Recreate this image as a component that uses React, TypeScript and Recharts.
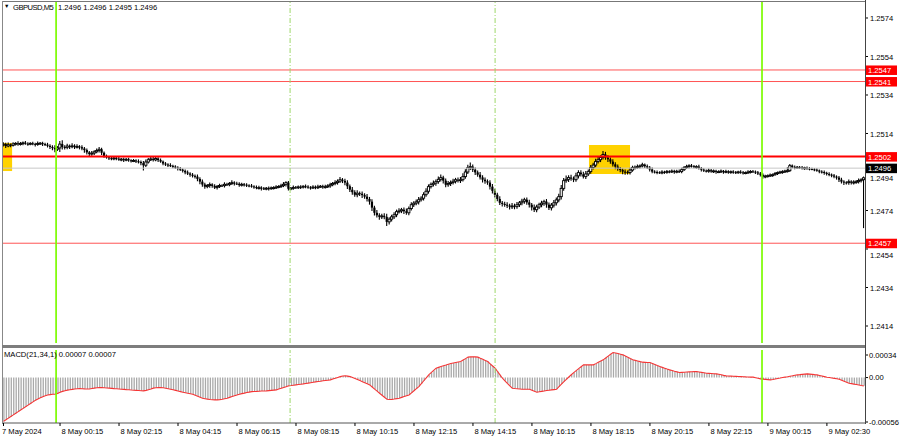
import React from 'react';
import { ComposedChart, Bar, Line, XAxis, YAxis, ReferenceLine, ReferenceArea } from 'recharts';

// ---------------- data ----------------
const BASE = 1.24; // closes/wicks below are pips above 1.2400
const firstOpenPips = 108.0;

const closePips = [
  108.5,107.5,108.2,107.8,108.6,108.9,108.4,108.8,109.2,108.7,
  108.5,108.9,108.6,108.3,108.8,109.0,108.5,108.2,107.6,107.0,
  106.5,105.8,106.5,
  108.5,107.0,106.8,107.5,107.2,107.6,107.0,107.3,106.9,106.2,
  105.4,104.2,103.3,103.8,104.5,105.2,105.8,104.0,
  102.2,101.6,101.2,100.8,101.3,100.9,100.4,100.7,100.2,100.6,100.1,99.8,100.0,99.6,99.2,98.6,
  97.5,
  99.2,100.4,100.8,100.3,101.0,100.2,99.4,
  98.4,97.9,97.6,97.2,96.8,96.3,95.8,95.2,94.6,93.8,93.2,92.6,92.0,91.6,90.4,89.0,
  87.5,86.4,87.0,87.5,86.8,85.9,86.5,87.0,86.9,87.6,87.4,88.0,88.5,88.0,87.9,87.2,87.6,87.4,87.0,86.9,
  86.5,86.2,85.8,85.9,85.5,85.3,85.6,85.4,85.8,85.9,86.2,86.5,86.9,87.6,88.5,
  85.3,85.6,86.0,85.9,86.3,86.1,86.6,86.4,86.0,85.8,86.2,85.9,86.3,86.6,86.2,86.4,86.8,87.4,88.0,88.5,89.2,
  90.0,89.4,88.5,86.6,84.8,83.5,82.2,83.0,82.7,82.0,81.2,80.0,78.6,75.5,
  72.8,71.5,70.7,71.2,70.7,68.1,69.5,70.7,71.8,73.4,73.8,74.4,73.6,72.8,75.0,77.0,77.8,78.5,79.6,80.4,82.2,84.0,
  86.4,87.6,88.2,89.0,90.2,91.1,89.5,87.4,88.0,88.5,89.2,90.0,89.6,90.0,91.6,94.0,96.3,96.8,95.2,93.8,92.6,91.2,90.0,89.2,88.5,86.4,84.2,82.2,
  80.0,78.0,77.4,77.0,76.5,76.0,76.4,76.0,77.0,78.0,78.8,79.6,78.2,77.0,75.6,74.4,75.8,77.0,77.8,78.6,77.0,75.4,76.8,78.0,79.5,81.2,
  85.5,89.5,90.2,91.1,90.6,90.0,92.0,93.7,92.8,91.6,93.0,94.2,96.3,97.6,99.4,100.4,101.5,
  103.1,101.5,100.6,99.4,98.0,96.8,95.6,95.0,94.2,94.0,93.7,95.0,96.3,96.5,96.8,97.2,97.8,97.0,96.3,95.3,94.2,94.0,93.8,
  93.7,94.0,93.8,94.3,94.2,94.5,94.0,94.4,94.2,95.2,96.3,96.8,97.3,97.0,96.6,96.8,96.0,95.2,94.7,94.5,94.9,94.3,94.6,94.1,
  94.2,94.5,94.0,94.3,93.8,94.2,93.9,93.7,94.1,93.8,93.6,93.7,94.0,94.3,94.2,93.8,93.2,92.6,91.6,91.9,
  92.1,92.4,92.6,93.2,93.7,94.0,94.2,94.5,94.7,97.3,96.6,96.3,96.5,96.3,96.0,96.2,95.8,95.6,95.4,95.2,
  94.8,94.2,94.0,93.5,93.0,92.6,92.2,91.6,91.1,90.0,89.0,88.6,88.5,89.0,88.5,88.8,89.0,89.6,90.0,91.0,
];

const wickUpPips = [
  .8,.6,1.0,.5,.7,.4,.9,.6,.5,.8,.6,.4,.7,.5,.9,.4,.6,.5,.8,.6,
  .7,1.2,.9,1.5,1.8,.8,1.0,.6,1.2,.7,.9,.5,.8,.6,.7,.5,.9,.6,.8,1.0,
  .6,.5,.7,.4,.6,.8,.5,.7,.4,.6,.5,.7,.4,.6,.5,.8,.6,.9,1.1,.7,
  .8,.9,.6,.5,.7,.4,.6,.5,.8,.4,.6,.5,.7,.4,.6,.8,.5,.7,.6,.9,
  .7,1.0,.8,.6,.9,.5,.7,.6,.8,.5,.9,.6,.7,1.0,.5,.8,.6,.7,.5,.6,
  .5,.7,.4,.6,.8,.5,.6,.4,.7,.5,.6,.8,.5,.9,1.0,.6,.7,.5,.8,.6,
  .5,.7,.4,.8,.6,.5,.7,.6,.9,.5,.6,.8,.7,.9,.6,1.0,.8,1.2,.7,.9,
  1.0,.8,1.2,.9,1.4,.7,1.0,.8,1.2,.9,1.1,.8,1.3,.9,1.0,1.2,1.5,.8,1.0,1.1,
  .9,1.2,.8,1.0,1.3,.9,1.1,.8,1.0,1.2,.9,1.1,1.4,1.0,.8,1.2,.9,1.3,1.5,.8,
  1.0,1.2,.9,1.1,.8,1.0,1.2,1.6,1.3,1.3,2.0,.9,1.0,.8,1.2,.9,1.0,.8,1.1,1.2,
  1.0,.9,1.2,.8,1.0,1.1,.9,1.3,1.0,1.2,.8,1.1,.9,1.0,1.2,.8,1.3,1.0,.9,1.1,
  .8,1.2,1.0,.9,1.3,1.1,1.4,1.6,1.2,1.8,1.0,1.3,.9,1.5,1.1,1.0,1.2,1.4,1.0,1.2,
  1.1,1.3,1.2,1.0,1.6,1.2,1.0,.8,1.1,.9,1.0,.8,.7,.9,.6,1.0,.8,.7,.9,.6,
  .8,.5,.7,.6,.9,.5,.6,.4,.7,.5,.6,.4,.7,.5,.6,.8,.9,.7,.8,.6,
  .7,.5,.6,.8,.5,.6,.4,.7,.5,.6,.4,.5,.6,.4,.7,.5,.4,.6,.5,.4,
  .6,.5,.4,.7,.5,.6,.4,.5,.7,.6,.5,.4,.6,.5,.7,.4,.5,.6,.5,1.6,
  .7,.5,.6,.4,.5,.6,.4,.5,.6,.4,.5,.6,.4,.5,.6,.5,.7,.4,.6,.5,
  .7,.8,.6,.5,.9,.6,.8,.7,.9,.6,.5,
];

const wickDownPips = [
  .6,.9,.5,.8,.4,.7,.6,.5,.8,.4,.7,.5,.6,.9,.5,.6,.8,.5,.7,.9,
  1.0,1.4,.8,2.0,1.2,1.0,.8,1.1,.7,.9,.6,1.0,.8,1.2,.9,1.3,.7,.8,.6,.9,
  1.0,.7,.5,.8,.6,.5,.7,.4,.6,.8,.5,.6,.7,.5,.8,.6,.9,2.6,.8,.6,
  .5,.7,.6,.8,.5,.7,.6,.8,.5,.7,.6,.9,.5,.7,.8,.6,.9,.7,.8,1.0,
  1.2,1.0,.9,.7,1.0,.8,.6,.9,.7,.6,.8,.5,.7,.6,.9,.5,.7,.6,.8,.6,
  .7,.5,.8,.6,.7,.9,.5,.6,.8,.5,.7,.6,.5,.7,.6,1.0,.8,.6,.7,.5,
  .6,.8,.5,.7,.6,.8,.5,.7,.6,.5,.7,.6,.5,.8,.6,.7,.9,.8,1.0,1.2,
  1.3,1.0,1.2,.9,1.1,1.0,1.3,.9,1.2,1.4,1.6,1.2,1.0,1.3,.9,1.1,2.0,1.2,1.0,.9,
  1.1,.8,1.0,1.2,.9,1.1,.8,1.0,.9,1.2,.8,1.0,.9,1.1,.8,1.0,1.2,.9,1.0,1.3,
  1.2,.9,1.1,.8,1.0,.9,1.2,.8,1.0,.9,1.1,1.0,1.2,.9,1.0,1.3,1.1,1.0,1.4,1.2,
  1.3,1.1,1.0,1.2,.9,1.1,1.3,1.0,1.2,.9,1.0,1.1,1.2,1.0,1.3,1.5,1.0,1.2,.9,1.1,
  1.2,1.4,1.0,1.3,1.1,1.2,1.0,1.3,1.1,.9,1.2,1.0,1.1,.9,1.2,1.0,.8,1.1,.9,1.0,
  .9,1.0,.8,1.1,.9,1.0,1.2,.9,1.0,1.2,.8,1.0,1.2,1.3,.9,.8,.7,.9,.6,.8,
  .7,.8,.6,.9,.7,.6,.8,.5,.7,.6,.5,.7,.6,.8,.5,.6,.7,.5,.6,.8,
  .6,.5,.7,.6,.8,.5,.6,.7,.5,.6,.8,.5,.6,.7,.5,.6,.5,.7,.6,.5,
  .5,.7,.6,.5,.6,.4,.7,.6,.8,1.0,.7,.6,.5,.7,.4,.6,.5,.7,.5,.6,
  .6,.5,.7,.4,.6,.5,.7,.5,.6,.4,.6,.5,.7,.6,.8,.7,.6,.8,.7,.9,
  1.0,.8,1.2,.9,1.0,.8,.9,.7,.8,.9,25.0,
];

// MACD(21,34,1) per bar, in units of 0.00001
const macdE5 = [
  -54,-52,-50,-48,-46,-44,-42,-40,-38,-36,-34,-32,-30,-28,-26.5,-25,-23.5,-22.5,-21.5,-21,-20.6,
  -20.5,-19.5,-18.2,-17,-16.2,-15.5,-15,-14.5,-14.1,-13.8,-13.6,-13.7,-13.9,-14,-14,-13.5,-13,-12.6,-12.3,-12.4,
  -12.6,-12.8,-13,-13.3,-13.6,-13.8,-14,-14.3,-14.6,-14.9,-15.1,-15.4,-15.6,-15.8,-16,-16.2,-16.4,-15.8,-15,-14.2,
  -13,-12.6,-12.4,-12.3,-12.6,-13.2,-13.8,-14.4,-15.1,-15.8,-16.6,-17.3,-18,-18.6,-19.3,-19.9,-20.5,-21.8,-23,-24.2,
  -25.4,-26,-26.6,-27,-27.3,-27.5,-27.5,-27.2,-26.7,-26,-25.4,-24.4,-23.4,-22.4,-21.4,-20.5,-19.8,-19.2,-18.5,-17.9,
  -17.3,-17.1,-17,-16.8,-16.6,-16.5,-16.4,-16.1,-15.8,-15.5,-15.2,-14.2,-13.2,-12.2,-11.2,-10.2,-9.8,-9.4,-9,-8.6,
  -8.2,-7.8,-7.3,-6.8,-6.3,-5.8,-5.3,-4.9,-4.5,-4,-3.6,-3.2,-2.8,-1.8,-0.8,0.2,1.2,2,2.2,1.8,
  1.2,0,-1.2,-2.4,-3.7,-5,-6.3,-7.6,-9,-11.6,-14.2,-16.8,-19.3,-21.8,-24.3,-26.7,-27,-26.9,-26.5,-26,
  -25.4,-24.4,-23.4,-22.4,-21.4,-18.8,-16.2,-13.6,-11.1,-7.5,-3.9,-0.3,3.3,6,8.8,11.6,12.6,13.6,14.6,15.5,
  16.5,17.4,18,18.6,19.2,19.8,21.6,23.4,25.2,25.5,25.6,25.5,25.2,23.8,22.5,21.2,19.8,17,14.3,11.6,
  7.5,3.4,-0.8,-4,-7.2,-10.2,-13.1,-13.5,-13.8,-14.1,-14.4,-14.4,-14.4,-14.4,-15.6,-16.8,-18,-17.5,-17,-16.5,
  -16,-15.6,-15.2,-14.8,-14.4,-11.2,-8,-4.9,-2.1,0.7,3.5,6.2,8.6,11,13.4,15.7,15.7,15.6,15.6,15.7,
  17.2,18.8,20.4,21.9,24.2,26.4,28.7,30.9,30.4,29.6,28.8,28,26.5,25,23.4,21.9,21.2,20.5,19.7,19,
  18.8,18.6,18.5,17.3,16.1,14.8,13.6,12.6,11.6,10.5,9.5,8.7,7.8,7,6.2,6.4,6.6,6.8,7,7.2,
  7.3,7.4,6.9,6.4,5.9,5.4,5.2,5,4.8,4.6,4,3.4,2.7,2.1,1.9,1.8,1.6,1.5,1.3,1.2,
  1.1,0.9,0.8,0.6,0.5,-0.2,-0.9,-1.6,-1.9,-2.2,-2.5,-2.8,-2.3,-1.7,-1.1,-0.6,0,0.6,1.1,1.7,
  2.2,2.8,3.3,3.6,4,4.3,4.6,4.3,4,3.6,3.3,2.6,1.9,1.2,0.5,0,-0.5,-1,-1.5,-2,
  -3.2,-4.5,-5.7,-6.9,-7.5,-8.1,-8.6,-9.1,-9.7,-10.2,
];

const timeLabels = [
  '7 May 2024', '8 May 00:15', '8 May 02:15', '8 May 04:15', '8 May 06:15', '8 May 08:15',
  '8 May 10:15', '8 May 12:15', '8 May 14:15', '8 May 16:15', '8 May 18:15', '8 May 20:15',
  '8 May 22:15', '9 May 00:15', '9 May 02:30',
];
const timeLabelBars = [0, 23, 47, 71, 95, 119, 143, 167, 191, 215, 239, 263, 287, 311, 335];

const priceTicks = [1.2574, 1.2554, 1.2534, 1.2514, 1.2494, 1.2474, 1.2454, 1.2434, 1.2414];
const levelPrices = [1.2547, 1.2541, 1.2502, 1.2457];
const levelWidths = [1, 1, 2, 1];
const bidPrice = 1.2496;

const dayLineBars = [21.4, 308.6];      // solid green separators (bar position)
const sessionLineBars = [116.6, 200.0]; // dashed green markers

const zoneX1 = [-0.61, 238.2];
const zoneX2 = [3.5, 254.9];
const zoneTop = [1.25091, 1.2508];
const zoneBottom = [1.24945, 1.2493];

const macdTicks = [0.00034, 0, -0.00056];

// ---------------- layout constants ----------------
const FONT = '"Liberation Sans", Arial, sans-serif';
const FS = 7.6;
const PLOT_LEFT = 2;
const PLOT_RIGHT = 865;
const AXIS_W = 900 - PLOT_RIGHT;
const X_DOMAIN: [number, number] = [-0.61, 350.5];
const PRICE_DOMAIN: [number, number] = [1.240517, 1.258231];
const MACD_DOMAIN: [number, number] = [-0.00056, 0.00034];
const MACD_TOP = 349;
const BOX_H = 9.5;

// ---------------- derived tables ----------------
const candles = closePips.map((c, i) => {
  const o = i === 0 ? firstOpenPips : closePips[i - 1];
  const hi = Math.max(o, c) + wickUpPips[i];
  const lo = Math.min(o, c) - wickDownPips[i];
  return {
    i,
    open: BASE + o / 1e4,
    close: BASE + c / 1e4,
    high: BASE + hi / 1e4,
    low: BASE + lo / 1e4,
    range: [BASE + lo / 1e4, BASE + hi / 1e4],
  };
});

const macdData = macdE5.map((v, i) => ({ i, macd: v / 1e5 }));
const boxedPrices = [bidPrice, ...levelPrices];

// ---------------- renderers ----------------
const Candle = (props: any) => {
  const { x, y, width, height, payload } = props;
  if (!payload || x == null || y == null || height == null) return null;
  const top = Math.min(y, y + height);
  const h = Math.abs(height);
  const { open, close, high, low } = payload;
  const span = high - low || 1e-9;
  const k = h / span;
  const cx = x + width / 2;
  const bTop = top + (high - Math.max(open, close)) * k;
  const bBot = top + (high - Math.min(open, close)) * k;
  const bull = close > open;
  const bh = Math.max(bBot - bTop, 1);
  return (
    <g>
      <line x1={cx} x2={cx} y1={top - 0.3} y2={top + h + 0.3} stroke="#000" strokeWidth={1.1} />
      <rect
        x={cx - 1.1}
        y={bTop}
        width={2.2}
        height={bh}
        fill={bull ? '#fff' : '#000'}
        stroke="#000"
        strokeWidth={bull ? 0.9 : 0}
      />
    </g>
  );
};

const PriceTick = (props: any) => {
  const { y, payload } = props;
  const v = Number(payload.value);
  // a tick label sitting under a price box is nudged just below that box
  const hidden = boxedPrices.some((p) => p > v && p - v < 0.0005);
  const dy = hidden ? 6 : 0;
  return (
    <g>
      <line x1={PLOT_RIGHT} x2={PLOT_RIGHT + 3} y1={y} y2={y} stroke="#000" strokeWidth={1} />
      <text x={PLOT_RIGHT + 5} y={y + 3.4 + dy} fontSize={FS} fontFamily={FONT} fill="#000">
        {v.toFixed(4)}
      </text>
    </g>
  );
};

const boxLabel = (text: string, bg: string) => (props: any) => {
  const vb = props.viewBox || {};
  const y = vb.y;
  if (y == null) return null;
  return (
    <g>
      <rect x={PLOT_RIGHT + 1} y={y - 4.5} width={31} height={BOX_H} fill={bg} />
      <text x={PLOT_RIGHT + 3} y={y + 3} fontSize={FS} fontFamily={FONT} fill="#fff">
        {text}
      </text>
    </g>
  );
};

const MacdTick = (props: any) => {
  const { y, payload } = props;
  const v = Number(payload.value);
  const label = v === 0 ? '0.00' : v.toFixed(5);
  const shift = v === MACD_DOMAIN[1] ? 5 : v === MACD_DOMAIN[0] ? -1 : 0;
  return (
    <g>
      <line x1={PLOT_RIGHT} x2={PLOT_RIGHT + 3} y1={y + shift} y2={y + shift} stroke="#000" />
      <text x={PLOT_RIGHT + 4} y={y + shift + 2.8} fontSize={FS} fontFamily={FONT} fill="#000">
        {label}
      </text>
    </g>
  );
};

const TimeTick = (props: any) => {
  const { x, payload } = props;
  const idx = timeLabelBars.indexOf(Number(payload.value));
  if (idx < 0) return null;
  const tx = idx === 0 ? PLOT_LEFT : x + 1.5;
  return (
    <text x={tx} y={434 - MACD_TOP} fontSize={FS} fontFamily={FONT} fill="#000">
      {timeLabels[idx]}
    </text>
  );
};

const greenLines = () => [
  ...dayLineBars.map((b, k) => (
    <ReferenceLine key={'d' + k} x={b} stroke="#7cfc00" strokeWidth={1.7} ifOverflow="hidden" />
  )),
  ...sessionLineBars.map((b, k) => (
    <ReferenceLine key={'s' + k} x={b} stroke="#9ed86a" strokeWidth={1} strokeDasharray="5 2 1 2" ifOverflow="hidden" />
  )),
];

export default function App() {
  return (
    <div
      style={{
        position: 'absolute',
        left: 0,
        top: 0,
        width: 900,
        height: 441,
        background: '#fff',
        overflow: 'hidden',
        fontFamily: FONT,
      }}
    >
      {/* price panel */}
      <div style={{ position: 'absolute', left: 0, top: 0 }}>
        <ComposedChart width={900} height={345} data={candles} margin={{ top: 2, right: 0, bottom: 2, left: PLOT_LEFT }}>
          <XAxis type="number" dataKey="i" domain={X_DOMAIN} allowDataOverflow hide />
          <YAxis
            orientation="right"
            type="number"
            domain={PRICE_DOMAIN}
            allowDataOverflow
            ticks={priceTicks}
            interval={0}
            tick={<PriceTick />}
            tickLine={false}
            axisLine={false}
            width={AXIS_W}
          />
          {zoneX1.map((x1, k) => (
            <ReferenceArea
              key={'z' + k}
              x1={x1}
              x2={zoneX2[k]}
              y1={zoneBottom[k]}
              y2={zoneTop[k]}
              fill="#ffd200"
              fillOpacity={1}
              stroke="none"
              ifOverflow="hidden"
            />
          ))}
          <ReferenceLine y={bidPrice} stroke="#c8c8c8" strokeWidth={1} label={boxLabel(bidPrice.toFixed(4), '#000')} />
          {levelPrices.map((p, k) => (
            <ReferenceLine
              key={'l' + k}
              y={p}
              stroke={levelWidths[k] > 1 ? '#ff0000' : '#ff5555'}
              strokeWidth={levelWidths[k]}
              label={boxLabel(p.toFixed(4), '#ff0000')}
            />
          ))}
          <Bar dataKey="range" shape={<Candle />} barSize={2} isAnimationActive={false} />
          {greenLines()}
        </ComposedChart>
      </div>

      {/* MACD panel */}
      <div style={{ position: 'absolute', left: 0, top: MACD_TOP }}>
        <ComposedChart width={900} height={92} data={macdData} margin={{ top: 1, right: 0, bottom: 0, left: PLOT_LEFT }}>
          <XAxis
            type="number"
            dataKey="i"
            domain={X_DOMAIN}
            allowDataOverflow
            ticks={timeLabelBars}
            interval={0}
            tick={<TimeTick />}
            tickSize={3}
            tickLine={{ stroke: '#000' }}
            axisLine={{ stroke: '#555' }}
            height={18}
          />
          <YAxis
            orientation="right"
            type="number"
            domain={MACD_DOMAIN}
            allowDataOverflow
            ticks={macdTicks}
            interval={0}
            tick={<MacdTick />}
            tickLine={false}
            axisLine={false}
            width={AXIS_W}
          />
          <Bar dataKey="macd" fill="#a9a9a9" barSize={1.3} isAnimationActive={false} />
          <Line dataKey="macd" type="linear" stroke="#f53535" strokeWidth={1.1} dot={false} isAnimationActive={false} />
          {greenLines()}
        </ComposedChart>
      </div>

      {/* frame + sub-window separator */}
      <div style={{ position: 'absolute', left: PLOT_LEFT, top: 1, width: PLOT_RIGHT - PLOT_LEFT, height: 0, borderTop: '1px solid #777' }} />
      <div style={{ position: 'absolute', left: PLOT_LEFT, top: 1, width: 0, height: 423, borderLeft: '1px solid #888' }} />
      <div style={{ position: 'absolute', left: PLOT_RIGHT, top: 0, width: 0, height: 424, borderLeft: '1px solid #444' }} />
      <div style={{ position: 'absolute', left: PLOT_LEFT, top: 345, width: PLOT_RIGHT - PLOT_LEFT, height: 3, background: '#7d7d7d' }} />

      {/* header texts */}
      <div style={{ position: 'absolute', left: 4, top: 4, fontSize: 5.5, lineHeight: 1, color: '#000' }}>▼</div>
      <div style={{ position: 'absolute', left: 13, top: 3.9, fontSize: FS, letterSpacing: -0.5, lineHeight: 1, color: '#000', whiteSpace: 'pre' }}>
        GBPUSD,M5
      </div>
      <div style={{ position: 'absolute', left: 58, top: 3.9, fontSize: FS, lineHeight: 1, color: '#000', whiteSpace: 'pre' }}>
        1.2496 1.2496 1.2495 1.2496
      </div>
      <div style={{ position: 'absolute', left: 4, top: 351.3, fontSize: FS, lineHeight: 1, color: '#000', whiteSpace: 'pre' }}>
        MACD(21,34,1) 0.00007 0.00007
      </div>
    </div>
  );
}
